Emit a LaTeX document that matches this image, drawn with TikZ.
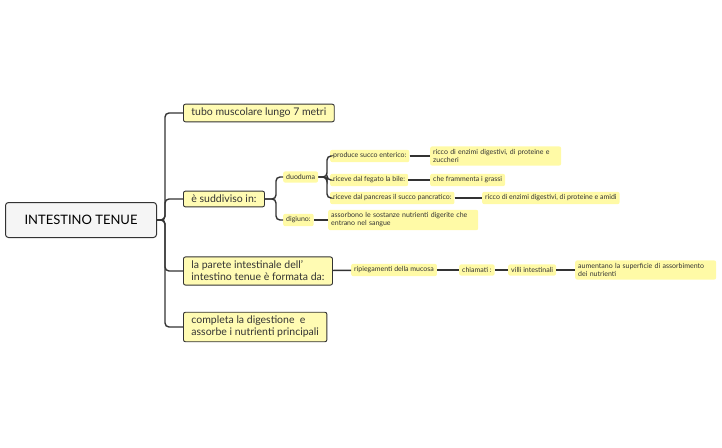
\documentclass[tikz,border=0pt]{standalone}
\usepackage{fontspec}
\setmainfont{Lato}
\begin{document}
\begin{tikzpicture}[x=1pt,y=-1pt,
 box/.style={draw=black!80,line width=0.9pt,fill=yellow!30!white,rounded corners=2pt,font=\fontsize{10.5}{12}\selectfont,text=black!80,align=left,inner xsep=8pt,inner ysep=4pt,anchor=west},
 sm/.style={fill=yellow!35!white,rounded corners=2pt,font=\fontsize{7}{8}\selectfont,text=black!80,align=left,inner xsep=3pt,inner ysep=3pt,anchor=west},
 ln/.style={line width=1.4pt,draw=black!80,rounded corners=4pt}]
\useasboundingbox (0,0) rectangle (722,447);
\node[draw=black!80,line width=1pt,fill=black!4,rounded corners=3pt,minimum width=151pt,minimum height=35pt,font=\fontsize{13}{15}\selectfont] (root) at (81,220) {INTESTINO TENUE};
\node[box] (t) at (183,113) {tubo muscolare lungo 7 metri};
\node[box] (s) at (183,199) {è suddiviso in:};
\node[box] (p) at (183,271) {la parete intestinale dell'\\intestino tenue è formata da:};
\node[box] (c) at (183,327) {completa la digestione\ \ e\\assorbe i nutrienti principali};
\foreach \n in {t,s,p,c} \draw[ln] (root.east) -- (165,220) |- (\n.west);
\node[sm] (du) at (283,177) {duoduma};
\node[sm] (dg) at (283,220) {digiuno:};
\foreach \n in {du,dg} \draw[ln] (s.east) -- (276,199) |- (\n.west);
\node[sm] (a1) at (330,156) {produce succo enterico:};
\node[sm] (a2) at (330,180) {riceve dal fegato la bile:};
\node[sm] (a3) at (330,198) {riceve dal pancreas il succo pancratico:};
\foreach \n in {a1,a2,a3} \draw[ln] (du.east) -- (327,177) |- (\n.west);
\node[sm,text width=125pt] (b1) at (430,156) {ricco di enzimi digestivi, di proteine e zuccheri};
\node[sm] (b2) at (430,180) {che frammenta i grassi};
\node[sm] (b3) at (482,198) {ricco di enzimi digestivi, di proteine e amidi};
\draw[ln] (a1) -- (b1); \draw[ln] (a2) -- (b2); \draw[ln] (a3) -- (b3);
\node[sm,text width=144pt] (as) at (328,220) {assorbono le sostanze nutrienti digerite che entrano nel sangue};
\draw[ln] (dg) -- (as);
\node[sm] (r1) at (351,270) {ripiegamenti della mucosa};
\node[sm] (r2) at (459,270) {chiamati :};
\node[sm] (r3) at (508,270) {villi intestinali};
\node[sm,text width=135pt] (r4) at (575,270) {aumentano la superficie di assorbimento dei nutrienti};
\draw[ln] (p) -- (r1); \draw[ln] (r1) -- (r2); \draw[ln] (r2) -- (r3); \draw[ln] (r3) -- (r4);
\end{tikzpicture}
\end{document}
